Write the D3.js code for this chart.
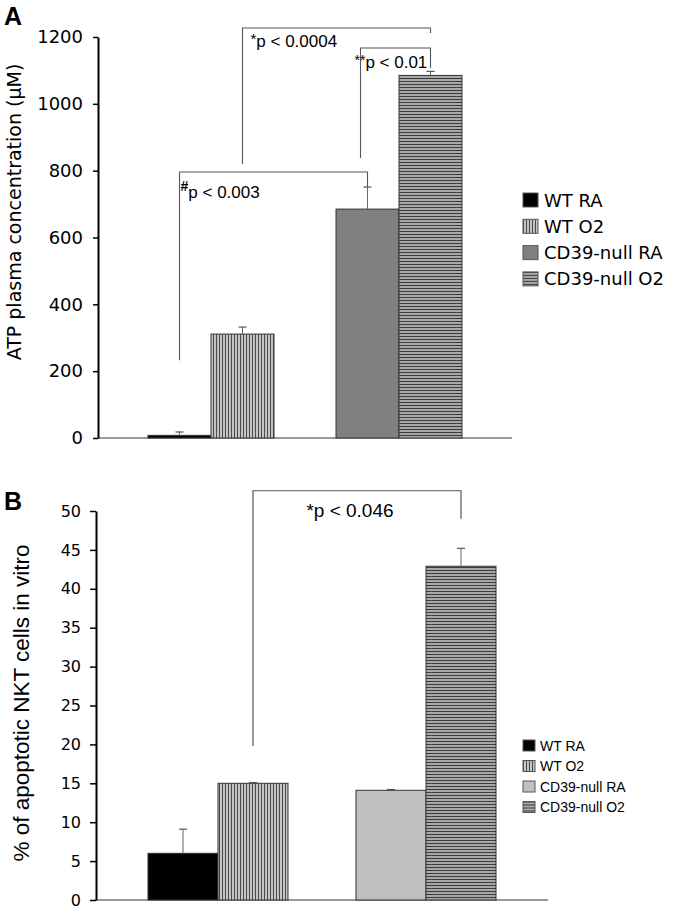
<!DOCTYPE html>
<html><head><meta charset="utf-8">
<script src="https://cdn.jsdelivr.net/npm/d3@7"></script>
<style>body{margin:0;background:#fff}</style>
</head><body>
<svg id="chart" width="680" height="909"></svg>
<script>
// ---------- data ----------
const groups = ["WT", "CD39-null"];
const conditions = ["RA", "O2"];
const seriesNames = ["WT RA", "WT O2", "CD39-null RA", "CD39-null O2"];
const atpValues = [8, 311, 685, 1085];
const atpErrors = [10, 21, 66, 12];
const atpTicks = [0, 200, 400, 600, 800, 1000, 1200];
const nktValues = [6.0, 15.0, 14.1, 42.9];
const nktErrors = [3.1, 0.1, 0.1, 2.3];
const nktTicks = [0, 5, 10, 15, 20, 25, 30, 35, 40, 45, 50];
// significance brackets (values in data units)
const atpBrackets = [
  {a: 0, b: 2, top: 796, l: 233, r: 751, label: "p < 0.003", pre: "#"},
  {a: 1, b: 3, top: 1227, l: 820, r: 1212, label: "p < 0.0004", pre: "*"},
  {a: 2, b: 3, top: 1167, l: 838, r: 1107, label: "p < 0.01", pre: "**", dxA: -7}
];
const nktBrackets = [{a: 1, b: 3, top: 52.6, l: 19.8, r: 49.0, label: "*p < 0.046"}];

const svg = d3.select("#chart");
const defs = svg.append("defs");

function mkPattern(id, vertical, bg, fg) {
  const p = defs.append("pattern").attr("id", id).attr("patternUnits", "userSpaceOnUse")
    .attr("width", 3).attr("height", 3);
  p.append("rect").attr("width", 3).attr("height", 3).attr("fill", bg);
  if (vertical) p.append("rect").attr("x", 0).attr("y", 0).attr("width", 1).attr("height", 3).attr("fill", fg);
  else p.append("rect").attr("x", 0).attr("y", 0).attr("width", 3).attr("height", 1).attr("fill", fg);
}
mkPattern("vstripe", true, "#c4c4c4", "#4a4a4a");
mkPattern("hstripe", false, "#a8a8a8", "#3c3c3c");

function drawPanel(cfg) {
  const g = svg.append("g");
  const y = d3.scaleLinear().domain([0, cfg.max]).range([cfg.y0, cfg.y1]);
  const x0 = d3.scaleBand().domain(groups).range([cfg.xL, cfg.xR])
    .paddingInner(cfg.pi).paddingOuter(cfg.po);
  const x1 = d3.scaleBand().domain(conditions).range([0, x0.bandwidth()]);
  const barX = i => x0(groups[Math.floor(i / 2)]) + x1(conditions[i % 2]);
  const barC = i => barX(i) + x1.bandwidth() / 2;
  const fills = ["#000", "url(#vstripe)", cfg.raFill, "url(#hstripe)"];

  // baseline
  g.append("line").attr("x1", cfg.xL).attr("x2", cfg.xR).attr("y1", y(0)).attr("y2", y(0))
    .attr("stroke", "#777").attr("stroke-width", 1.3);

  // bars
  g.selectAll("rect.bar").data(cfg.values).join("rect").attr("class", "bar")
    .attr("x", (d, i) => barX(i)).attr("width", x1.bandwidth())
    .attr("y", d => y(d)).attr("height", d => y(0) - y(d))
    .attr("fill", (d, i) => fills[i]).attr("stroke", "#333").attr("stroke-width", 1);

  // error bars
  const eb = g.selectAll("g.err").data(cfg.values).join("g").attr("class", "err");
  eb.append("line").attr("x1", (d, i) => barC(i)).attr("x2", (d, i) => barC(i))
    .attr("y1", d => y(d)).attr("y2", (d, i) => y(d + cfg.errors[i]))
    .attr("stroke", "#666").attr("stroke-width", 1);
  eb.append("line").attr("x1", (d, i) => barC(i) - 4).attr("x2", (d, i) => barC(i) + 4)
    .attr("y1", (d, i) => y(d + cfg.errors[i])).attr("y2", (d, i) => y(d + cfg.errors[i]))
    .attr("stroke", "#555").attr("stroke-width", 1.2);

  // y axis
  const ax = g.append("g").attr("transform", `translate(${cfg.xL},0)`)
    .call(d3.axisLeft(y).tickValues(cfg.ticks).tickFormat(d3.format("d"))
      .tickSize(cfg.tickLen).tickPadding(cfg.tickPad).tickSizeOuter(0));
  ax.select(".domain").attr("stroke", "#000").attr("stroke-width", 2);
  ax.selectAll(".tick line").attr("stroke", "#000").attr("stroke-width", 1.5);
  ax.selectAll(".tick text").attr("font-family", "DejaVu Sans").attr("font-size", cfg.tickFont)
    .attr("fill", "#000");

  // y label
  g.append("text").attr("transform", `translate(${cfg.labX},${cfg.labY}) rotate(-90)`)
    .attr("text-anchor", "middle").attr("font-family", cfg.labFamily).attr("font-size", cfg.labFont)
    .attr("fill", "#000").text(cfg.yLabel);

  // panel letter
  g.append("text").attr("x", 4).attr("y", cfg.letterY).attr("font-family", "Liberation Sans")
    .attr("font-weight", "bold").attr("font-size", 25).text(cfg.letter);

  return {g, y, barC, barX, x1};
}

// ---------- Panel A ----------
const A = drawPanel({
  values: atpValues, errors: atpErrors, ticks: atpTicks, max: 1200,
  y0: 438, y1: 37, xL: 98, xR: 512, pi: 0.33, po: 0.266, raFill: "#808080",
  tickFont: 18, tickLen: 5, tickPad: 10,
  yLabel: "ATP plasma concentration (μM)", labX: 21, labY: 212,
  labFamily: "DejaVu Sans", labFont: 19, letter: "A", letterY: 25
});
atpBrackets.forEach(b => {
  const xa = A.barC(b.a) + (b.dxA || 0), xb = A.barC(b.b) + (b.dxB || 0);
  const yt = A.y(b.top);
  A.g.append("path").attr("d", `M${xa},${A.y(b.l)}V${yt}H${xb}V${A.y(b.r)}`)
    .attr("fill", "none").attr("stroke", "#555").attr("stroke-width", 1.1);
  const t = A.g.append("text").attr("font-family", "Liberation Sans").attr("font-size", 17)
    .attr("fill", "#000");
  if (b.pre === "#") {
    t.attr("x", xa + 1).attr("y", yt + 26);
    t.append("tspan").attr("font-size", 14).attr("font-weight", "bold").attr("dy", -7).text("#");
    t.append("tspan").attr("dy", 7).text(b.label);
  } else if (b.pre === "*") {
    t.attr("x", xa + 8).attr("y", yt + 19);
    t.append("tspan").attr("font-size", 15).attr("dy", -3).text("*");
    t.append("tspan").attr("dy", 3).text(b.label);
  } else {
    t.attr("x", xa - 6).attr("y", yt + 20);
    t.append("tspan").attr("font-size", 14).attr("dy", -3).text("**");
    t.append("tspan").attr("dy", 3).text(b.label);
  }
});

// legend A
const legA = svg.append("g").attr("transform", "translate(523,193)");
const legFills = ["#000", "url(#vstripe)", "#808080", "url(#hstripe)"];
seriesNames.forEach((s, i) => {
  const r = legA.append("g").attr("transform", `translate(0,${i * 26.3})`);
  r.append("rect").attr("width", 15).attr("height", 14).attr("fill", legFills[i])
    .attr("stroke", "#555").attr("stroke-width", 1);
  r.append("text").attr("x", 21).attr("y", 13.5).attr("font-family", "DejaVu Sans")
    .attr("font-size", 18).text(s);
});

// ---------- Panel B ----------
const B = drawPanel({
  values: nktValues, errors: nktErrors, ticks: nktTicks, max: 50,
  y0: 900, y1: 511, xL: 96, xR: 548, pi: 0.327, po: 0.25, raFill: "#c0c0c0",
  tickFont: 16, tickLen: 6, tickPad: 9,
  yLabel: "% of apoptotic NKT cells in vitro", labX: 29, labY: 703,
  labFamily: "Liberation Sans", labFont: 22.5, letter: "B", letterY: 510
});
nktBrackets.forEach(b => {
  const xa = B.barC(b.a), xb = B.barC(b.b), yt = B.y(b.top);
  B.g.append("path").attr("d", `M${xa},${B.y(b.l)}V${yt}H${xb}V${B.y(b.r)}`)
    .attr("fill", "none").attr("stroke", "#555").attr("stroke-width", 1.2);
  B.g.append("text").attr("x", (xa + xb) / 2 - 7).attr("y", yt + 26).attr("text-anchor", "middle")
    .attr("font-family", "Liberation Sans").attr("font-size", 19).text(b.label);
});

// legend B
const legB = svg.append("g").attr("transform", "translate(523,740)");
const legFillsB = ["#000", "url(#vstripe)", "#c0c0c0", "url(#hstripe)"];
seriesNames.forEach((s, i) => {
  const r = legB.append("g").attr("transform", `translate(0,${i * 20.5})`);
  r.append("rect").attr("width", 12).attr("height", 11).attr("fill", legFillsB[i])
    .attr("stroke", "#555").attr("stroke-width", 1);
  r.append("text").attr("x", 17).attr("y", 10.5).attr("font-family", "Liberation Sans")
    .attr("font-size", 14).text(s);
});
</script>
</body></html>
